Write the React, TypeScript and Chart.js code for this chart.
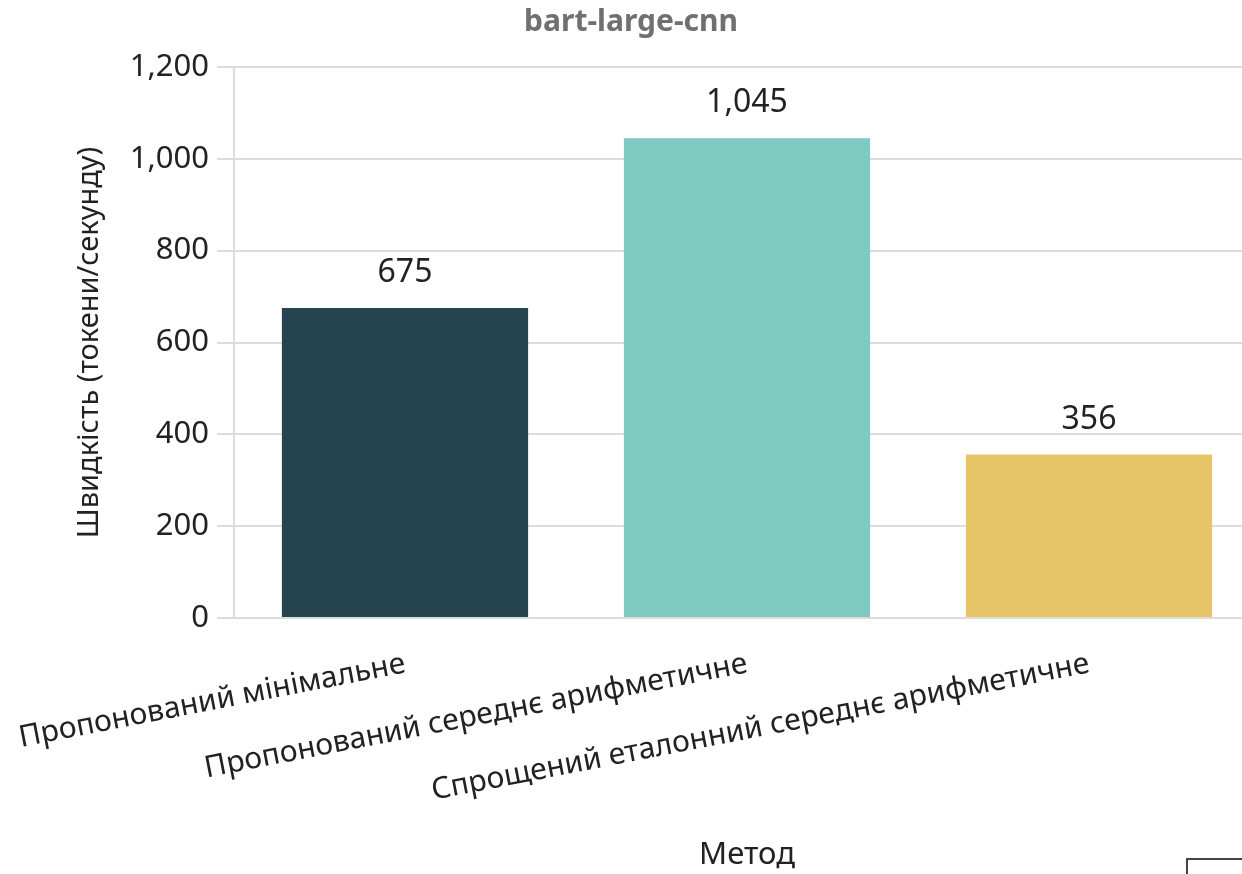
import React, { useEffect, useRef } from "react";
import { Chart, registerables } from "chart.js";

Chart.register(...registerables);

const categories = [
  "Пропонований мінімальне",
  "Пропонований середнє арифметичне",
  "Спрощений еталонний середнє арифметичне",
];
const speeds = [675, 1045, 356];
const barColors = ["#26444f", "#7fcac0", "#e8c468"];
const chartTitle = "bart-large-cnn";
const yTitle = "Швидкість (токени/секунду)";
const xTitle = "Метод";

const FONT = "'Noto Sans', sans-serif";

const valueLabels = {
  id: "valueLabels",
  afterDatasetsDraw(chart: any) {
    const { ctx } = chart;
    const meta = chart.getDatasetMeta(0);
    ctx.save();
    ctx.font = `32px ${FONT}`;
    ctx.fillStyle = "#222222";
    ctx.textAlign = "center";
    ctx.textBaseline = "alphabetic";
    meta.data.forEach((bar: any, i: number) => {
      const v = chart.data.datasets[0].data[i] as number;
      ctx.fillText(v.toLocaleString("en-US"), bar.x, bar.y - 26);
    });
    ctx.restore();
  },
};

const titlePlugin = {
  id: "topTitle",
  afterDraw(chart: any) {
    const { ctx } = chart;
    ctx.save();
    ctx.font = `bold 30px ${FONT}`;
    ctx.fillStyle = "#707070";
    ctx.textAlign = "center";
    ctx.textBaseline = "middle";
    ctx.fillText(chartTitle, 631, 22);
    ctx.restore();
  },
};

export default function App() {
  const ref = useRef<HTMLCanvasElement>(null);
  useEffect(() => {
    if (!ref.current) return;
    const chart = new Chart(ref.current, {
      type: "bar",
      data: {
        labels: categories,
        datasets: [
          {
            data: speeds,
            backgroundColor: barColors,
            borderWidth: 0,
            categoryPercentage: 1,
            barPercentage: 0.72,
          },
        ],
      },
      options: {
        animation: false,
        responsive: true,
        maintainAspectRatio: false,
        layout: { padding: { top: 67, right: 12, left: 0, bottom: 0 } },
        plugins: {
          legend: { display: false },
          tooltip: { enabled: false },
          title: { display: false },
        },
        scales: {
          x: {
            grid: { display: false, drawTicks: false },
            border: { display: false },
            afterFit: (s: any) => {
              s.height = 256;
              s.paddingLeft = 0;
              s.paddingRight = 0;
            },
            ticks: {
              color: "#222222",
              font: { family: FONT, size: 30 },
              minRotation: 11,
              maxRotation: 11,
              autoSkip: false,
              padding: 28,
            },
            title: {
              display: true,
              text: xTitle,
              color: "#222222",
              font: { family: FONT, size: 31 },
              padding: { top: 0, bottom: 0 },
            },
          },
          y: {
            min: 0,
            max: 1200,
            afterFit: (s: any) => {
              s.width = 234;
              s.paddingTop = 0;
              s.paddingBottom = 0;
            },
            ticks: {
              stepSize: 200,
              color: "#222222",
              font: { family: FONT, size: 31 },
              padding: 8,
              callback: (v: any) => Number(v).toLocaleString("en-US"),
            },
            grid: {
              color: "#dcdcdc",
              lineWidth: 2,
              tickLength: 17,
            },
            border: { display: true, color: "#dcdcdc", width: 2 },
            title: {
              display: true,
              text: yTitle,
              color: "#222222",
              font: { family: FONT, size: 29 },
              padding: { top: 72, bottom: 0 },
            },
          },
        },
      },
      plugins: [valueLabels, titlePlugin],
    });
    return () => chart.destroy();
  }, []);
  return (
    <div
      style={{
        position: "absolute",
        left: 0,
        top: 0,
        width: 1242,
        height: 874,
        overflow: "hidden",
        background: "#ffffff",
      }}
    >
      <div style={{ position: "relative", width: 1272, height: 874 }}>
        <canvas ref={ref} />
      </div>
      <div
        style={{
          position: "absolute",
          left: 1186,
          top: 858,
          width: 60,
          height: 30,
          borderTop: "2px solid #444",
          borderLeft: "2px solid #444",
        }}
      />
    </div>
  );
}
